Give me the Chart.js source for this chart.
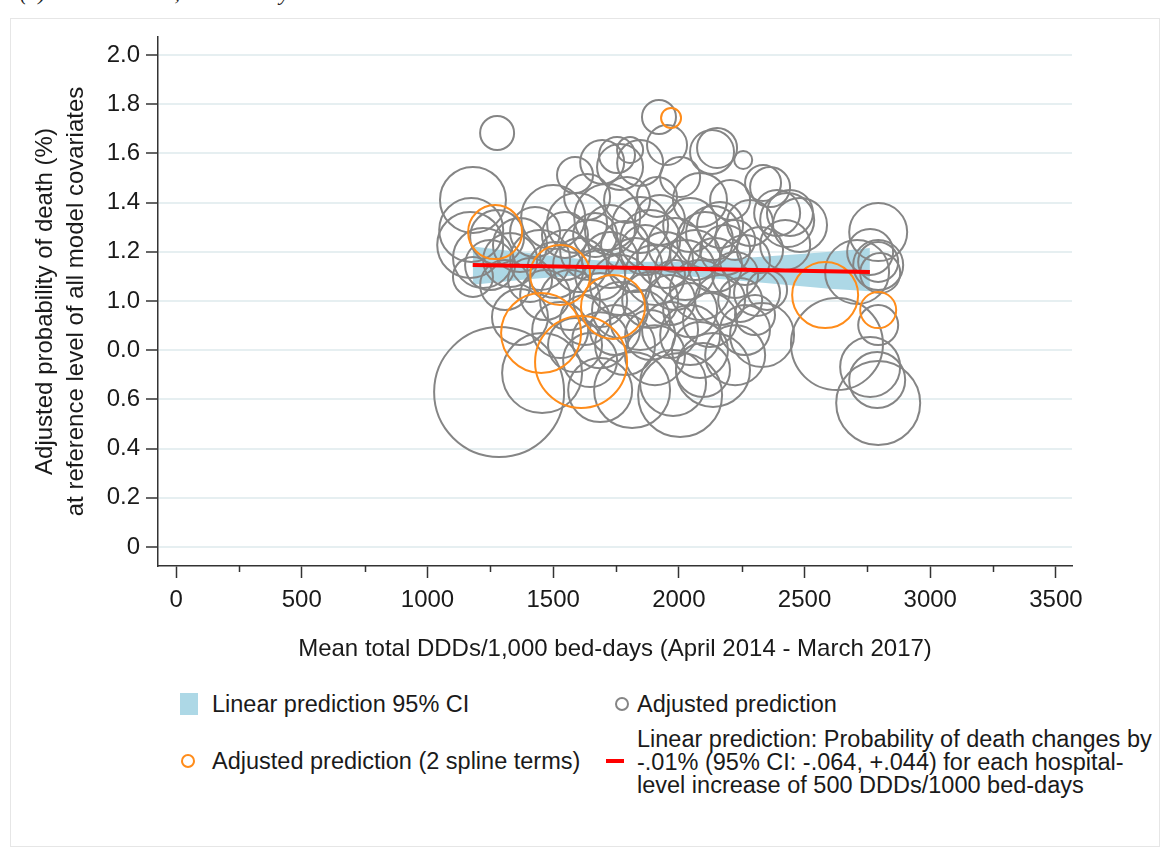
<!DOCTYPE html>
<html>
<head>
<meta charset="utf-8">
<script src="https://cdn.jsdelivr.net/npm/chart.js@4.4.0/dist/chart.umd.min.js"></script>
<style>
  body { margin: 0; background: #fff; width: 1163px; height: 849px; overflow: hidden; position: relative;
         font-family: "Liberation Sans", Arial, sans-serif; color: #1a1a1a; }
  #caption { position: absolute; left: 20px; top: -20px; font: italic 22px "Liberation Serif", serif; color: #222; }
  #frame { position: absolute; left: 10px; top: 18px; width: 1150px; height: 829px; border: 1px solid #e6e6e6; box-sizing: border-box; }
  #wrap { position: absolute; left: 0; top: 0; width: 1163px; height: 680px; }
  .lg { position: absolute; font-size: 23.5px; line-height: 23px; white-space: nowrap; }
  .mk { position: absolute; box-sizing: border-box; }
</style>
</head>
<body>
<div id="caption">(a) Total DDDs/1,000 bed-days</div>
<div id="frame"></div>
<div id="wrap"><canvas id="myBubbleChart" width="1163" height="680"></canvas></div>

<!-- legend -->
<div class="mk" style="left:180px;top:693px;width:18px;height:22px;background:#add8e6;"></div>
<div class="lg" style="left:212px;top:693px;">Linear prediction 95% CI</div>
<div class="mk" style="left:615px;top:697px;width:14px;height:14px;border:2px solid #858585;border-radius:50%;"></div>
<div class="lg" style="left:637px;top:693px;">Adjusted prediction</div>
<div class="mk" style="left:181px;top:754px;width:14px;height:14px;border:2px solid #ff8c1a;border-radius:50%;"></div>
<div class="lg" style="left:212px;top:750px;">Adjusted prediction (2 spline terms)</div>
<div class="mk" style="left:606px;top:759px;width:18px;height:4px;background:#ff0000;"></div>
<div class="lg" style="left:637px;top:728px;">Linear prediction: Probability of death changes by<br>-.01% (95% CI: -.064, +.044) for each hospital-<br>level increase of 500 DDDs/1000 bed-days</div>

<script>
// Trục
var xTickValues = [0, 500, 1000, 1500, 2000, 2500, 3000, 3500];
var xMinorTicks = [250, 750, 1250, 1750, 2250, 2750, 3250];
var yTickValues = [0, 0.2, 0.4, 0.6, 0.8, 1.0, 1.2, 1.4, 1.6, 1.8, 2.0];
var yTickLabels = ['0', '0.2', '0.4', '0.6', '0.0', '1.0', '1.2', '1.4', '1.6', '1.8', '2.0'];

// Dải tin cậy 95% của dự đoán tuyến tính
var bandX     = [1180, 1400, 1600, 1800, 2000, 2200, 2400, 2600, 2760];
var bandUpper = [1.222, 1.195, 1.172, 1.160, 1.160, 1.172, 1.185, 1.200, 1.215];
var bandLower = [1.066, 1.088, 1.104, 1.110, 1.103, 1.086, 1.068, 1.050, 1.040];

// Đường dự đoán tuyến tính
var fitX = [1180, 2760];
var fitY = [1.146, 1.118];

// Dự đoán hiệu chỉnh theo bệnh viện: [DDDs, xác suất tử vong, bán kính]
var grayPoints = [
  [1277, 1.683, 17], [1921, 1.748, 17], [1953, 1.634, 20], [1181, 1.411, 33], [1174, 1.289, 32],
  [1170, 1.228, 33], [1277, 1.260, 27], [1368, 1.228, 27], [1500, 1.341, 32], [1587, 1.512, 18],
  [1695, 1.565, 22], [1754, 1.593, 18], [1766, 1.545, 23], [1635, 1.423, 23], [1794, 1.411, 23],
  [1715, 1.341, 33], [1595, 1.317, 30], [1846, 1.561, 23], [1806, 1.614, 13], [2005, 1.504, 20],
  [2084, 1.411, 27], [1913, 1.423, 20], [2132, 1.606, 22], [2152, 1.622, 20], [2256, 1.573, 9],
  [2335, 1.480, 18], [2363, 1.463, 20], [2442, 1.358, 23], [2431, 1.329, 27], [2204, 1.411, 20],
  [2283, 1.317, 23], [2136, 1.276, 27], [2391, 1.358, 23], [2793, 1.280, 29], [2761, 1.199, 23],
  [2793, 1.159, 20], [2801, 1.114, 20], [2709, 1.118, 32], [2793, 0.902, 20], [2629, 0.825, 46],
  [2761, 0.732, 30], [2789, 0.679, 28], [2793, 0.585, 42], [2793, 1.146, 25], [2311, 1.033, 23],
  [2351, 1.045, 20], [2331, 0.862, 32], [1285, 0.630, 65], [1456, 0.707, 40], [1368, 0.935, 28],
  [1181, 1.098, 20], [1814, 0.638, 38], [1687, 0.638, 32], [1977, 0.667, 33], [2096, 0.720, 27],
  [2136, 0.720, 37], [2005, 0.618, 42], [1448, 1.167, 30], [1508, 1.126, 28], [1547, 1.187, 25],
  [1607, 1.146, 27], [1647, 1.207, 30], [1687, 1.106, 25], [1726, 1.167, 28], [1766, 1.065, 30],
  [1826, 1.146, 27], [1866, 1.207, 25], [1905, 1.106, 30], [1945, 1.167, 28], [1985, 1.228, 27],
  [2025, 1.126, 30], [2065, 1.187, 25], [2104, 1.248, 28], [2144, 1.146, 27], [2184, 1.207, 25],
  [2224, 1.106, 23], [2084, 1.045, 30], [2045, 0.963, 27], [1965, 1.004, 25], [1886, 1.004, 28],
  [1846, 0.923, 30], [1766, 0.963, 28], [1687, 1.004, 27], [1627, 0.923, 25], [1567, 1.004, 30],
  [1528, 0.882, 28], [1587, 0.821, 27], [1687, 0.841, 28], [1786, 0.821, 30], [1886, 0.862, 25],
  [1965, 0.882, 28], [2045, 0.862, 30], [2124, 0.923, 27], [2164, 1.004, 25], [2244, 1.004, 22],
  [1468, 1.024, 25], [1408, 1.085, 22], [1726, 1.289, 25], [1846, 1.309, 28], [1925, 1.329, 25],
  [2045, 1.309, 27], [2164, 1.309, 23], [2224, 1.248, 20], [2263, 1.167, 25], [2323, 1.207, 23],
  [1667, 1.268, 22], [1547, 1.268, 23], [1786, 1.228, 24], [1886, 1.248, 30], [1985, 1.065, 25],
  [1746, 0.882, 25], [1647, 0.760, 27], [1905, 0.780, 30], [2084, 0.801, 28], [2224, 0.780, 30],
  [2263, 0.882, 25], [2303, 0.943, 20], [1249, 1.146, 25], [1309, 1.065, 25], [1221, 1.175, 30],
  [1329, 1.167, 27], [1428, 1.280, 25], [2423, 1.228, 25], [2482, 1.309, 27]
];

// Dự đoán hiệu chỉnh (2 spline)
var orangePoints = [
  [1969, 1.744, 10], [1269, 1.280, 27], [1528, 1.106, 30], [1452, 0.870, 40],
  [1611, 0.752, 46], [1738, 0.976, 32], [2582, 1.024, 33], [2793, 0.963, 18]
];

var textColor = '#1a1a1a';
var axisColor = '#333333';
var fontFamily = '"Liberation Sans", Arial, sans-serif';

function toBubbles(arr) {
  return arr.map(function(p) { return { x: p[0], y: p[1], r: p[2] }; });
}
function toLine(xs, ys) {
  return xs.map(function(x, i) { return { x: x, y: ys[i] }; });
}

// Vạch phụ trên trục x
var minorTickPlugin = {
  id: 'minorTicks',
  afterDraw: function(chart) {
    var xs = chart.scales.x, c = chart.ctx;
    c.save();
    c.strokeStyle = axisColor;
    c.lineWidth = 1.5;
    xMinorTicks.forEach(function(v) {
      var px = Math.round(xs.getPixelForValue(v)) + 0.5;
      c.beginPath();
      c.moveTo(px, xs.top);
      c.lineTo(px, xs.top + 6);
      c.stroke();
    });
    c.restore();
  }
};

var ctx = document.getElementById('myBubbleChart').getContext('2d');
var myBubbleChart = new Chart(ctx, {
  type: 'bubble',
  data: {
    datasets: [
      {
        type: 'line', label: 'lower', data: toLine(bandX, bandLower),
        borderWidth: 0, borderColor: 'rgba(0,0,0,0)', pointRadius: 0,
        cubicInterpolationMode: 'monotone', fill: false, order: 5
      },
      {
        type: 'line', label: 'Linear prediction 95% CI', data: toLine(bandX, bandUpper),
        borderWidth: 0, borderColor: 'rgba(0,0,0,0)', pointRadius: 0,
        cubicInterpolationMode: 'monotone', fill: '-1', backgroundColor: '#add8e6', order: 4
      },
      {
        label: 'Adjusted prediction', data: toBubbles(grayPoints),
        borderColor: '#858585', borderWidth: 2, backgroundColor: 'rgba(0,0,0,0)', order: 3
      },
      {
        label: 'Adjusted prediction (2 spline terms)', data: toBubbles(orangePoints),
        borderColor: '#ff8c1a', borderWidth: 2, backgroundColor: 'rgba(0,0,0,0)', order: 2
      },
      {
        type: 'line', label: 'Linear prediction', data: toLine(fitX, fitY),
        borderColor: '#ff0000', borderWidth: 4, pointRadius: 0, fill: false, order: 1
      }
    ]
  },
  options: {
    responsive: false,
    animation: false,
    events: [],
    layout: { autoPadding: false, padding: { left: 0, right: 91, top: 37, bottom: 0 } },
    plugins: {
      legend: { display: false },
      tooltip: { enabled: false }
    },
    scales: {
      x: {
        type: 'linear',
        min: -72,
        max: 3564,
        afterBuildTicks: function(scale) {
          scale.ticks = xTickValues.map(function(v) { return { value: v }; });
        },
        afterFit: function(scale) { scale.height = 114; },
        ticks: {
          autoSkip: false, maxRotation: 0, padding: 8, color: textColor,
          font: { family: fontFamily, size: 24 },
          callback: function(value) { return String(value); }
        },
        grid: {
          drawOnChartArea: false, drawTicks: true, tickLength: 12,
          tickColor: axisColor, tickWidth: 1.5
        },
        border: { display: true, color: axisColor, width: 1.5 },
        title: {
          display: true, color: textColor,
          text: 'Mean total DDDs/1,000 bed-days (April 2014 - March 2017)',
          font: { family: fontFamily, size: 24 },
          padding: { top: 0, bottom: 16 }
        }
      },
      y: {
        type: 'linear',
        min: -0.077,
        max: 2.073,
        afterBuildTicks: function(scale) {
          scale.ticks = yTickValues.map(function(v) { return { value: v }; });
        },
        afterFit: function(scale) { scale.width = 158; },
        ticks: {
          autoSkip: false, padding: 6, color: textColor,
          font: { family: fontFamily, size: 24 },
          callback: function(value, index) { return yTickLabels[index]; }
        },
        grid: {
          color: '#e6eff1', lineWidth: 2, drawTicks: true, tickLength: 12,
          tickColor: axisColor, tickWidth: 1.5
        },
        border: { display: true, color: axisColor, width: 1.5 },
        title: {
          display: true, color: textColor,
          text: ['Adjusted probability of death (%)', 'at reference level of all model covariates'],
          font: { family: fontFamily, size: 24, lineHeight: 1.3 },
          padding: { top: 30, bottom: 0 }
        }
      }
    }
  },
  plugins: [minorTickPlugin]
});
</script>
</body>
</html>
